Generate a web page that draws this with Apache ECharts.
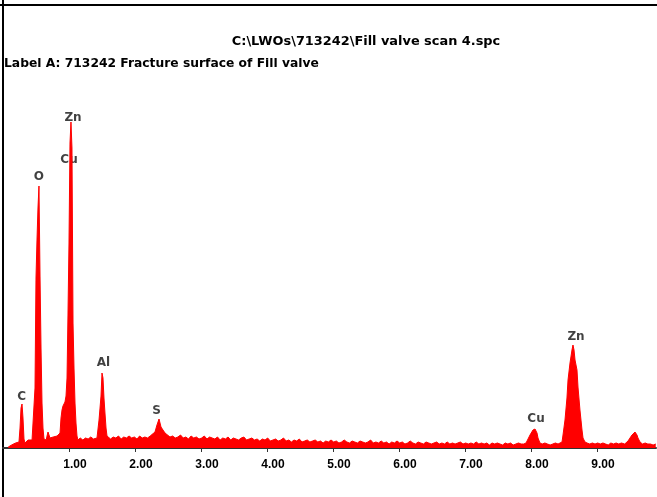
<!DOCTYPE html>
<html><head><meta charset="utf-8">
<script src="https://cdn.jsdelivr.net/npm/echarts@6/dist/echarts.min.js"></script>
<style>html,body{margin:0;padding:0;background:#fff}#c{width:657px;height:497px}</style>
</head><body><div id="c"></div>
<script>
// EDS spectrum: [energy keV, counts (relative)]
const spectrum = [
[0.08,1],[0.10,2],[0.13,3],[0.16,4],[0.19,5],[0.22,5],
[0.242,6],[0.258,20],[0.273,40],[0.288,44],[0.303,30],[0.318,9],[0.333,5],
[0.35,6],[0.38,8],[0.41,7],[0.44,8],[0.455,9],
[0.470,10],[0.485,60],[0.500,170],[0.515,208],[0.530,240],[0.545,262],[0.561,172],[0.576,100],[0.591,45],[0.606,20],[0.621,9],
[0.64,7],[0.655,8],
[0.667,12],[0.682,16],[0.697,14],[0.712,10],[0.73,9],
[0.76,11],[0.79,9],[0.82,12],[0.85,11],
[0.864,15],[0.879,30],[0.894,38],[0.909,42],[0.924,44],[0.939,46],[0.955,52],[0.970,70],[0.985,135],[1.000,205],[1.015,305],[1.030,326],[1.045,300],[1.061,125],[1.076,80],[1.091,45],[1.106,25],[1.121,12],[1.136,8],
[1.17,10],[1.21,8],[1.25,10],[1.29,9],[1.33,11],[1.37,9],[1.40,10],
[1.424,10],[1.439,12],[1.455,28],[1.470,40],[1.485,52],[1.500,75],[1.515,70],[1.530,50],[1.545,35],[1.561,20],[1.576,12],[1.591,10],
[1.63,9],[1.67,11],[1.71,10],[1.75,12],[1.79,9],[1.83,11],[1.87,10],[1.91,12],[1.95,10],[1.99,11],[2.03,9],[2.07,12],[2.11,10],[2.15,11],[2.19,10],[2.23,12],
[2.258,12],[2.303,16],[2.333,23],[2.364,29],[2.394,21],[2.424,18],[2.455,15],[2.485,13],[2.53,11],
[2.57,12],[2.61,10],[2.65,11],[2.69,13],[2.73,10],[2.77,11],[2.81,9],[2.85,12],[2.89,10],[2.93,11],[2.97,9],[3.01,10],[3.05,12],[3.09,9],[3.13,11],[3.17,10],[3.21,9],[3.25,11],[3.29,8],[3.33,10],[3.37,9],[3.41,11],[3.45,8],[3.49,10],
[3.53,9],[3.57,8],[3.61,10],[3.65,11],[3.69,8],[3.73,9],[3.77,10],[3.81,8],[3.85,9],[3.89,7],[3.93,9],[3.97,8],[4.01,10],[4.05,7],[4.09,8],[4.13,9],[4.17,7],[4.21,8],[4.25,10],[4.29,7],[4.33,8],[4.37,6],[4.41,8],[4.45,7],[4.49,9],
[4.53,6],[4.57,7],[4.61,8],[4.65,6],[4.69,7],[4.73,8],[4.77,6],[4.81,7],[4.85,5],[4.89,7],[4.93,6],[4.97,8],[5.01,6],[5.05,7],[5.09,5],[5.13,6],[5.17,8],[5.21,6],[5.25,5],[5.29,7],[5.33,6],[5.37,5],[5.41,7],[5.45,6],[5.49,5],
[5.53,6],[5.57,8],[5.61,5],[5.65,6],[5.69,5],[5.73,7],[5.77,5],[5.81,6],[5.85,4],[5.89,6],[5.93,5],[5.97,7],[6.01,5],[6.05,6],[6.09,4],[6.13,5],[6.17,7],[6.21,5],[6.25,4],[6.29,6],[6.33,5],[6.37,4],[6.41,6],[6.45,5],[6.49,4],
[6.53,5],[6.57,6],[6.61,4],[6.65,5],[6.69,4],[6.73,6],[6.77,4],[6.81,5],[6.85,4],[6.89,5],[6.93,6],[6.97,4],[7.01,5],[7.05,4],[7.09,5],[7.13,4],[7.17,6],[7.21,4],[7.25,5],[7.29,4],[7.33,5],[7.37,3],[7.41,5],[7.45,4],[7.49,5],
[7.53,4],[7.57,3],[7.61,5],[7.65,4],[7.69,5],[7.73,3],[7.77,4],[7.81,5],[7.85,4],[7.89,4],[7.925,5],
[7.955,7],[7.985,13],[8.015,15],[8.03,18],[8.061,19],[8.091,15],[8.106,10],[8.136,5],[8.17,4],
[8.21,5],[8.25,4],[8.29,3],[8.33,4],[8.37,5],[8.41,4],[8.44,4],
[8.470,6],[8.485,13],[8.515,28],[8.545,50],[8.561,68],[8.591,85],[8.621,98],[8.636,103],[8.652,98],[8.667,88],[8.697,78],[8.712,61],[8.742,38],[8.773,18],[8.788,10],[8.818,6],[8.85,5],
[8.89,4],[8.93,5],[8.97,4],[9.01,5],[9.05,4],[9.09,5],[9.13,4],[9.17,3],[9.21,5],[9.25,4],[9.29,5],[9.33,4],[9.37,5],[9.42,4],
[9.47,7],[9.50,10],[9.53,13],[9.545,15],[9.576,16],[9.606,13],[9.621,10],[9.652,6],[9.69,4],[9.73,5],[9.77,4],[9.81,4],[9.85,3],[9.89,4]
];
const peakNames  = ['Zn', 'Cu', 'O', 'C', 'Al', 'S', 'Cu', 'Zn'];
const peakEnergy = [1.061, 1.000, 0.545, 0.283, 1.522, 2.327, 8.076, 8.682];
const peakLabelY = [330, 288, 271, 51, 85, 37, 29, 111];
const titleLine1 = 'C:\\LWOs\\713242\\Fill valve scan 4.spc';
const titleLine2 = 'Label A: 713242 Fracture surface of Fill valve';

const chart = echarts.init(document.getElementById('c'), null, {renderer: 'canvas'});
const FONT = '"Liberation Sans", Arial, sans-serif';
const WIDE = '"DejaVu Sans", Verdana, sans-serif';
chart.setOption({
  animation: false,
  backgroundColor: '#fff',
  grid: {left: 3, right: 1, top: 108, bottom: 49, containLabel: false},
  xAxis: {
    type: 'value', min: 0, max: 9.894, interval: 1, offset: 4,
    axisLine: {show: true, lineStyle: {color: '#333', width: 2}},
    axisTick: {show: true, length: 4, lineStyle: {color: '#333', width: 1}},
    splitLine: {show: false},
    axisLabel: {
      show: true, margin: 7, color: '#000', fontFamily: FONT, fontWeight: 'bold', fontSize: 12,
      padding: [0, 0, 0, 12], showMinLabel: false, showMaxLabel: false,
      formatter: v => v === 0 ? '' : v.toFixed(2)
    }
  },
  yAxis: {type: 'value', min: 0, max: 340, show: false},
  series: [
    {
      type: 'line', data: spectrum, showSymbol: false, symbol: 'none',
      lineStyle: {color: '#ff0000', width: 1},
      areaStyle: {color: '#ff0000', opacity: 1},
      silent: true
    },
    {
      type: 'scatter', symbolSize: 0,
      data: peakNames.map((n, i) => ({name: n, value: [peakEnergy[i], peakLabelY[i]]})),
      label: {show: true, position: 'inside', formatter: p => p.name, color: '#111',
              fontFamily: WIDE, fontSize: 12, fontWeight: 'bold'},
      silent: true
    }
  ],
  graphic: [
    {type: 'rect', shape: {x: 0, y: 4, width: 657, height: 2}, style: {fill: '#000'}},
    {type: 'rect', shape: {x: 2, y: 0, width: 2, height: 497}, style: {fill: '#000'}},
    {type: 'text', x: 366, y: 42, style: {text: titleLine1, fill: '#000', font: 'bold 12.9px ' + WIDE, textAlign: 'center', textVerticalAlign: 'middle'}},
    {type: 'text', x: 4, y: 64, style: {text: titleLine2, fill: '#000', font: 'bold 12.3px ' + WIDE, textAlign: 'left', textVerticalAlign: 'middle'}}
  ]
});
</script>
</body></html>
